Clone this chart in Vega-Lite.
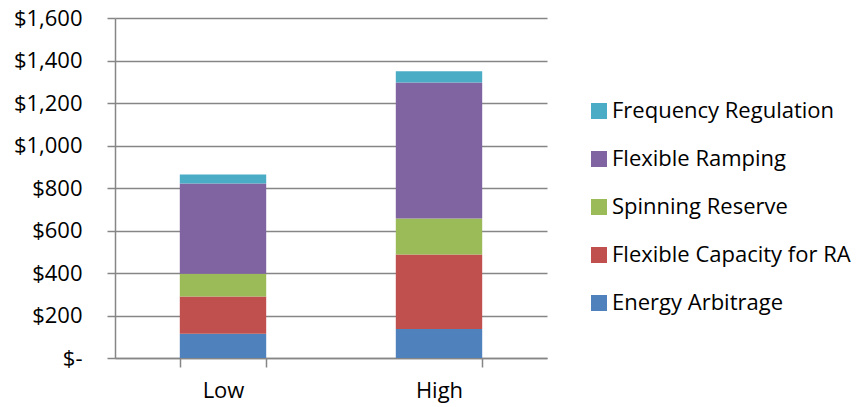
{
  "$schema": "https://vega.github.io/schema/vega-lite/v6.json",
  "width": 432,
  "height": 340,
  "autosize": {"type": "none"},
  "padding": {"left": 115, "top": 18, "right": 319, "bottom": 49},
  "background": "white",
  "config": {
    "view": {"stroke": null},
    "font": "Open Sans"
  },
  "data": {
    "values": [
      {"scenario": "Low", "service": "Energy Arbitrage", "rank": 1, "value": 114},
      {"scenario": "Low", "service": "Flexible Capacity for RA", "rank": 2, "value": 176},
      {"scenario": "Low", "service": "Spinning Reserve", "rank": 3, "value": 106},
      {"scenario": "Low", "service": "Flexible Ramping", "rank": 4, "value": 425},
      {"scenario": "Low", "service": "Frequency Regulation", "rank": 5, "value": 42},
      {"scenario": "High", "service": "Energy Arbitrage", "rank": 1, "value": 137},
      {"scenario": "High", "service": "Flexible Capacity for RA", "rank": 2, "value": 350},
      {"scenario": "High", "service": "Spinning Reserve", "rank": 3, "value": 169},
      {"scenario": "High", "service": "Flexible Ramping", "rank": 4, "value": 641},
      {"scenario": "High", "service": "Frequency Regulation", "rank": 5, "value": 52}
    ]
  },
  "mark": {"type": "bar"},
  "encoding": {
    "x": {
      "field": "scenario",
      "type": "nominal",
      "sort": ["Low", "High"],
      "scale": {"paddingInner": 0.6, "paddingOuter": 0.3},
      "axis": {
        "title": null,
        "labelAngle": 0,
        "labelFontSize": 22,
        "labelColor": "#000000",
        "labelPadding": 13,
        "tickBand": "extent",
        "tickSize": 9,
        "tickColor": "#868686",
        "tickWidth": 1.5,
        "domainColor": "#868686",
        "domainWidth": 1.5,
        "grid": false
      }
    },
    "y": {
      "field": "value",
      "type": "quantitative",
      "stack": "zero",
      "scale": {"domain": [0, 1600], "nice": false},
      "axis": {
        "title": null,
        "values": [0, 200, 400, 600, 800, 1000, 1200, 1400, 1600],
        "labelExpr": "datum.value == 0 ? '$-' : '$' + format(datum.value, ',')",
        "labelFontSize": 22,
        "labelColor": "#000000",
        "labelPadding": 25,
        "tickSize": 8,
        "tickColor": "#868686",
        "tickWidth": 1.5,
        "domainColor": "#868686",
        "domainWidth": 1.5,
        "gridColor": "#868686",
        "gridWidth": 1.5,
        "encode": {
          "labels": {
            "update": {
              "dx": {"signal": "datum.value == 0 ? -10 : 0"}
            }
          }
        }
      }
    },
    "color": {
      "field": "service",
      "type": "nominal",
      "scale": {
        "domain": ["Frequency Regulation", "Flexible Ramping", "Spinning Reserve", "Flexible Capacity for RA", "Energy Arbitrage"],
        "range": ["#4BACC6", "#8064A2", "#9BBB59", "#C0504D", "#4F81BD"]
      },
      "legend": {
        "title": null,
        "orient": "none",
        "legendX": 473,
        "legendY": 82,
        "symbolType": "square",
        "symbolSize": 256,
        "symbolStrokeWidth": 0,
        "labelFontSize": 22,
        "labelColor": "#000000",
        "labelOffset": 2,
        "rowPadding": 26,
        "labelLimit": 400
      }
    },
    "order": {"field": "rank", "type": "quantitative"}
  }
}
